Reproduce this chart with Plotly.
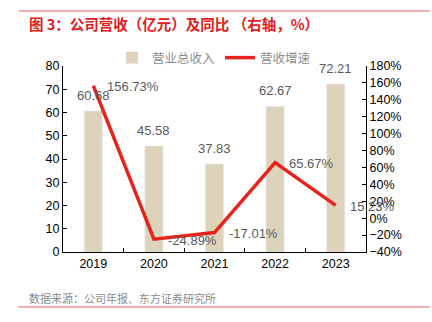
import plotly.graph_objects as go

years = ["2019", "2020", "2021", "2022", "2023"]
revenue = [60.68, 45.58, 37.83, 62.67, 72.21]
growth = [156.73, -24.89, -17.01, 65.67, 15.23]

W, H = 432, 322
L, R, T, B = 63, 66, 66, 70

def px_x(px):
    return (px - L) / (W - L - R)
def px_y(py):
    return (H - B - py) / (H - T - B)

fig = go.Figure()
fig.add_trace(go.Bar(x=years, y=revenue, name="营业总收入", marker_color="#DDD3BB",
                     width=0.30, yaxis="y"))
fig.add_trace(go.Scatter(x=years, y=growth, name="营收增速", mode="lines",
                         line=dict(color="#E8231E", width=3.5), yaxis="y2"))

lab_font = dict(family="Liberation Sans, Arial", size=13, color="#595959")
anns = []
for i, v in enumerate(revenue):
    anns.append(dict(x=i, y=v, xref="x", yref="y", text=f"{v:.2f}", showarrow=False,
                     yanchor="bottom", yshift=6, font=lab_font))
for i, v in enumerate(growth):
    anns.append(dict(x=i, y=v, xref="x", yref="y2", text=f"{v:.2f}%", showarrow=False,
                     xanchor="left", yanchor="middle", xshift=12, yshift=-1, font=lab_font))

anns.append(dict(x=px_x(27), y=px_y(23), xref="paper", yref="paper", xanchor="left", yanchor="middle",
                 text="<b>图 3：公司营收（亿元）及同比 （右轴，%）</b>", showarrow=False,
                 font=dict(family="Noto Sans CJK SC", size=14.5, color="#E0201B")))
anns.append(dict(x=px_x(27), y=px_y(298), xref="paper", yref="paper", xanchor="left", yanchor="middle",
                 text="数据来源：公司年报、东方证券研究所", showarrow=False,
                 font=dict(family="Noto Sans CJK SC", size=11, color="#8C8C8C")))

shapes = [
    dict(type="line", xref="paper", yref="paper", x0=px_x(19), x1=px_x(430), y0=px_y(11), y1=px_y(11),
         line=dict(color="#E86060", width=1)),
    dict(type="line", xref="paper", yref="paper", x0=px_x(18), x1=px_x(430), y0=px_y(307), y1=px_y(307),
         line=dict(color="#E86060", width=1)),
]

tick_font = dict(family="Liberation Sans, Arial", size=12.5, color="#000000")
fig.update_layout(
    width=W, height=H, margin=dict(l=L, r=R, t=T, b=B, pad=0),
    paper_bgcolor="white", plot_bgcolor="white",
    annotations=anns, shapes=shapes,
    showlegend=True,
    legend=dict(orientation="h", x=px_x(112), y=px_y(58), xanchor="left",
                yanchor="middle", font=dict(family="Noto Sans CJK SC", size=12.5, color="#8C8C8C"),
                bgcolor="rgba(0,0,0,0)", itemwidth=30, tracegroupgap=0),
    xaxis=dict(type="category", showline=True, linecolor="#000", linewidth=1, ticks="inside", ticklen=4,
               tickcolor="#000", tickson="boundaries", showgrid=False, tickfont=tick_font,
               range=[-0.5, 4.5]),
    yaxis=dict(range=[0, 80], dtick=10, showline=True, linecolor="#000", linewidth=1,
               ticks="inside", ticklen=4, tickcolor="#000", showgrid=False, zeroline=False,
               tickfont=tick_font),
    yaxis2=dict(range=[-40, 180], dtick=20, overlaying="y", side="right", showline=True,
                linecolor="#000", linewidth=1, ticks="inside", ticklen=4, tickcolor="#000",
                showgrid=False, zeroline=False, ticksuffix="%", tickfont=tick_font),
)

fig.write_html("out.html")
